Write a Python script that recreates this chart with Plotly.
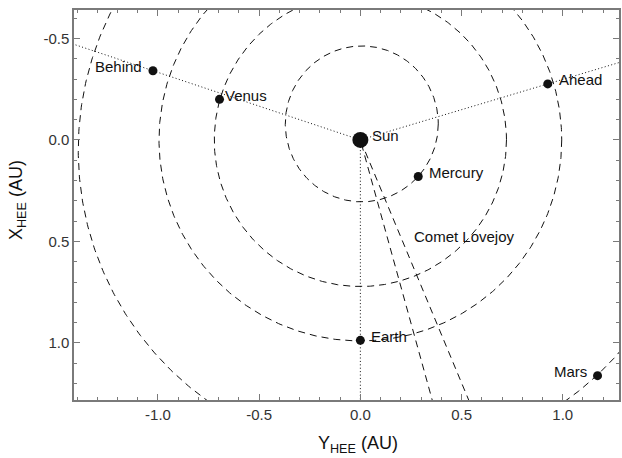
import numpy as np
import plotly.graph_objects as go

# ---- data (AU, HEE frame: horizontal = Y_HEE, vertical = X_HEE) ----
body_names = ["Sun", "Mercury", "Venus", "Earth", "Mars", "Ahead", "Behind"]
body_y_hee = [0.0, 0.286, -0.696, 0.0, 1.172, 0.926, -1.025]
body_x_hee = [0.0, 0.180, -0.200, 0.987, 1.161, -0.276, -0.341]

orbit_names = ["Mercury", "Venus", "Earth", "Mars"]
orbit_center_y = [0.007, 0.0, 0.0, 0.13]
orbit_center_x = [-0.079, 0.0, 0.0, 0.05]
orbit_semi_y = [0.378, 0.722, 0.995, 1.524]
orbit_semi_x = [0.384, 0.722, 0.990, 1.517]

# Comet Lovejoy: inbound / outbound legs through the Sun
comet_y_hee = [0.585, 0.0, 0.388]
comet_x_hee = [1.40, 0.0, 1.40]
comet_label = "Comet Lovejoy"
comet_label_pos = (0.253, 0.476)

# sight lines from the Sun through these bodies
sightline_bodies = ["Earth", "Ahead", "Behind"]

x_tickvals = [-1.0, -0.5, 0.0, 0.5, 1.0]
x_ticktext = ["-1.0", "-0.5", "0.0", "0.5", "1.0"]
y_tickvals = [-0.5, 0.0, 0.5, 1.0]
y_ticktext = ["-0.5", "0.0", "0.5", "1.0"]

# ---- styling ----
label_side = ["right", "right", "right", "right", "left", "right", "left"]
label_gap = [10, 9, 3, 9, 9, 9, 9]
marker_size = [16, 9, 9, 9, 9, 9, 9]
INK = "#111111"
AXIS = "#7a7a7a"
FONT = "Liberation Sans, Arial, sans-serif"

fig = go.Figure()

t = np.linspace(0, 2 * np.pi, 721)
for name, cy, cx, ay, ax in zip(orbit_names, orbit_center_y, orbit_center_x,
                                orbit_semi_y, orbit_semi_x):
    fig.add_trace(go.Scatter(
        x=cy + ay * np.cos(t), y=cx + ax * np.sin(t), mode="lines",
        line=dict(color=INK, width=1, dash="7px,5px"),
        hoverinfo="skip", showlegend=False, name=name + " orbit"))

fig.add_trace(go.Scatter(
    x=comet_y_hee, y=comet_x_hee, mode="lines",
    line=dict(color=INK, width=1, dash="7px,5px"),
    showlegend=False, name=comet_label))

for b in sightline_bodies:
    i = body_names.index(b)
    fig.add_trace(go.Scatter(
        x=[0, body_y_hee[i] * 3], y=[0, body_x_hee[i] * 3], mode="lines",
        line=dict(color=INK, width=1, dash="1px,2.4px"),
        showlegend=False, hoverinfo="skip"))

fig.add_trace(go.Scatter(
    x=body_y_hee, y=body_x_hee, mode="markers",
    marker=dict(color=INK, size=marker_size, opacity=1,
                line=dict(width=0)),
    text=body_names, showlegend=False))

annotations = []
for name, xv, yv, side, gap in zip(body_names, body_y_hee, body_x_hee,
                                   label_side, label_gap):
    annotations.append(dict(
        x=xv, y=yv, xref="x", yref="y", text=name, showarrow=False,
        xanchor="left" if side == "right" else "right", yanchor="middle",
        xshift=gap if side == "right" else -gap, yshift=4,
        font=dict(family=FONT, size=15, color=INK)))
annotations.append(dict(
    x=comet_label_pos[0], y=comet_label_pos[1], xref="x", yref="y",
    text=comet_label, showarrow=False, xanchor="left", yanchor="middle",
    font=dict(family=FONT, size=15, color=INK)))
annotations.append(dict(
    x=0.5, y=0, xref="paper", yref="paper", xshift=11, yshift=-44,
    text="Y<sub>HEE</sub> (AU)", showarrow=False, xanchor="center",
    yanchor="middle", font=dict(family=FONT, size=18, color=INK)))
annotations.append(dict(
    x=0, y=0.5, xref="paper", yref="paper", xshift=-57, yshift=5,
    text="X<sub>HEE</sub> (AU)", showarrow=False, textangle=-90,
    xanchor="center", yanchor="middle",
    font=dict(family=FONT, size=18, color=INK)))

axis_common = dict(
    showgrid=False, zeroline=False, showline=True, linecolor=AXIS,
    linewidth=1.5, mirror="ticks", ticks="inside", ticklen=6,
    tickcolor=AXIS, tickwidth=1.2,
    tickfont=dict(family=FONT, size=15, color="#333333"),
    minor=dict(ticks="inside", ticklen=3.5, tickcolor=AXIS, tickwidth=1,
               dtick=0.1, showgrid=False))

fig.update_xaxes(range=[-1.415, 1.278], tickvals=x_tickvals,
                 ticktext=x_ticktext, **axis_common)
fig.update_yaxes(range=[1.281, -0.64], tickvals=y_tickvals,
                 ticktext=y_ticktext, **axis_common)

fig.update_layout(
    width=622, height=458,
    margin=dict(l=74, r=1, t=10, b=58),
    paper_bgcolor="white", plot_bgcolor="white",
    font=dict(family=FONT, color=INK),
    annotations=annotations, showlegend=False)

fig.write_html("out.html", config={"displayModeBar": False},
               post_script="document.body.style.margin='0px';")
